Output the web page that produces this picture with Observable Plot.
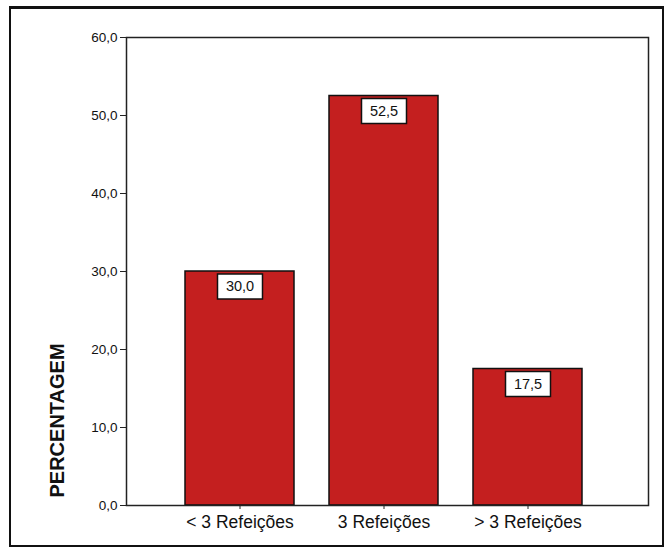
<!DOCTYPE html>
<html>
<head>
<meta charset="utf-8">
<script src="https://cdn.jsdelivr.net/npm/d3@7"></script>
<script src="https://cdn.jsdelivr.net/npm/@observablehq/plot@0.6"></script>
<style>
  html, body { margin: 0; padding: 0; background: #fff; }
  #wrap { position: relative; width: 669px; height: 554px; overflow: hidden; }
  #border { position: absolute; left: 9px; top: 6px; width: 655px; height: 541px;
            border: 2px solid #111; border-top-width: 3px; box-sizing: border-box; pointer-events: none; }
  #chart { position: absolute; left: 0; top: 0; }
  svg text { font-family: "Liberation Sans", Arial, sans-serif; }
</style>
</head>
<body>
<div id="wrap">
  <div id="chart"></div>
  <div id="border"></div>
</div>
<script>
const categories = ["< 3 Refeições", "3 Refeições", "> 3 Refeições"];
const values = [30.0, 52.5, 17.5];
const yTicks = [0, 10, 20, 30, 40, 50, 60];
const yLabel = "PERCENTAGEM";

const data = categories.map((c, i) => ({category: c, value: values[i]}));
const fmt = v => v.toFixed(1).replace(".", ",");

const boxSymbol = {
  draw(context) {
    const w = 45, h = 25;
    context.rect(-w / 2, -h / 2, w, h);
  }
};

const chart = Plot.plot({
  width: 669,
  height: 554,
  marginLeft: 126,
  marginRight: 21,
  marginTop: 37,
  marginBottom: 49,
  style: {fontFamily: "Liberation Sans, Arial, sans-serif", background: "transparent", overflow: "visible"},
  x: {domain: categories, paddingInner: 0.24, paddingOuter: 0.43, align: 0.47, label: null},
  y: {domain: [0, 60], label: null},
  marks: [
    Plot.barY(data, {x: "category", y: "value", fill: "#c41f1f", stroke: "#111", strokeWidth: 1.5}),
    Plot.frame({stroke: "#222", strokeWidth: 1.5}),
    Plot.axisY({ticks: yTicks, tickFormat: fmt, tickSize: 6, tickPadding: 3, fontSize: 13.5, label: null, stroke: "#222", fill: "#111", style: {letterSpacing: "0.3px"}}),
    Plot.axisX({tickSize: 4, tickPadding: 6, fontSize: 17.5, label: null, stroke: "#222", fill: "#111", style: {letterSpacing: "0.9px"}}),
    Plot.dot(data, {x: "category", y: "value", dy: 15, symbol: boxSymbol, r: 10, fill: "white", stroke: "#111", strokeWidth: 1.5}),
    Plot.text(data, {x: "category", y: "value", dy: 15, text: d => fmt(d.value), fontSize: 14.5, fill: "#111"}),
    Plot.text([yLabel], {frameAnchor: "bottom-left", textAnchor: "start", text: d => d, rotate: -90, dx: -63, dy: -8, fontSize: 20, fontWeight: "bold", fill: "#111", style: {letterSpacing: "2px"}})
  ]
});
document.getElementById("chart").appendChild(chart);
</script>
</body>
</html>
